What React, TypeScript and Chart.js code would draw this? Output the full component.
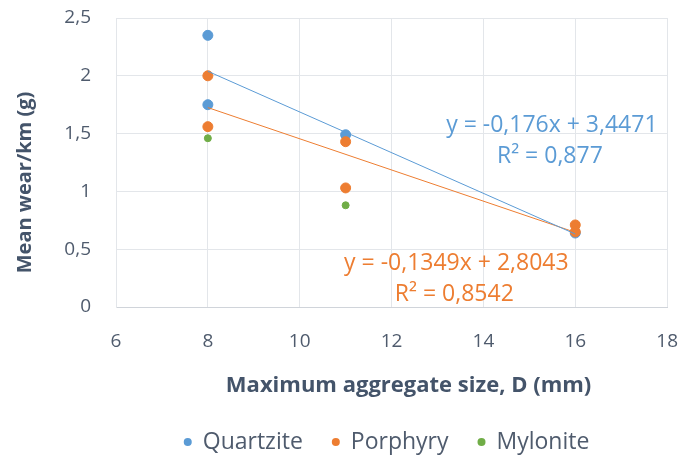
import React, { useEffect, useRef } from "react";
import { Chart, registerables } from "chart.js";

Chart.register(...registerables);

const seriesNames = ["Quartzite", "Porphyry", "Mylonite"];
const seriesColors = ["#5B9BD5", "#ED7D31", "#70AD47"];

const quartziteX = [8, 8, 11, 16];
const quartziteY = [2.35, 1.75, 1.49, 0.64];
const porphyryX = [8, 8, 11, 11, 16, 16];
const porphyryY = [2.0, 1.56, 1.43, 1.03, 0.71, 0.65];
const myloniteX = [8, 11];
const myloniteY = [1.46, 0.88];

// Linear trendlines (Quartzite, Porphyry)
const trendSlopes = [-0.176, -0.1349];
const trendIntercepts = [3.4471, 2.8043];
const trendR2 = ["0,877", "0,8542"];
const trendEqTexts = ["y = -0,176x + 3,4471", "y = -0,1349x + 2,8043"];
// label anchors in data space
const labelAnchorX = [15.49, 13.41];
const labelAnchorY = [1.57, 0.375];

const xTicks = { min: 6, max: 18, step: 2 };
const yTicks = { min: 0, max: 2.5, step: 0.5 };

const xTitle = "Maximum aggregate size, D (mm)";
const yTitle = "Mean wear/km (g)";

const FONT = "'Open Sans', 'DejaVu Sans', sans-serif";
const TICK_COLOR = "#4F5B6D";
const TITLE_COLOR = "#44546A";

function pts(xs: number[], ys: number[]) {
  return xs.map((x, i) => ({ x, y: ys[i] }));
}

function trendPoints(xs: number[], k: number) {
  const lo = Math.min(...xs);
  const hi = Math.max(...xs);
  return [
    { x: lo, y: trendSlopes[k] * lo + trendIntercepts[k] },
    { x: hi, y: trendSlopes[k] * hi + trendIntercepts[k] },
  ];
}

const textPlugin = {
  id: "textLabels",
  afterDatasetsDraw(chart: any) {
    const { ctx, scales, chartArea } = chart;
    ctx.save();
    ctx.textAlign = "center";
    ctx.textBaseline = "middle";
    ctx.font = `23px ${FONT}`;
    for (let k = 0; k < 2; k++) {
      const px = scales.x.getPixelForValue(labelAnchorX[k]);
      const py = scales.y.getPixelForValue(labelAnchorY[k]);
      ctx.fillStyle = seriesColors[k];
      ctx.fillText(trendEqTexts[k], px, py);
      ctx.fillText(`R² = ${trendR2[k]}`, px - 2, py + 31);
    }
    // axis titles
    ctx.fillStyle = TITLE_COLOR;
    ctx.font = `bold 22px ${FONT}`;
    ctx.fillText(xTitle, (chartArea.left + chartArea.right) / 2 + 17, chartArea.bottom + 79);
    ctx.save();
    ctx.font = `bold 20px ${FONT}`;
    ctx.translate(25, (chartArea.top + chartArea.bottom) / 2 + 20);
    ctx.rotate(-Math.PI / 2);
    ctx.fillText(yTitle, 0, 0);
    ctx.restore();

    // legend
    ctx.font = `23px ${FONT}`;
    ctx.textAlign = "left";
    const dotGap = 15;
    const itemGap = 33;
    const widths = seriesNames.map((n) => ctx.measureText(n).width);
    const total =
      widths.reduce((a: number, b: number) => a + b, 0) + dotGap * seriesNames.length + itemGap * (seriesNames.length - 1) + 4;
    let x = (chartArea.left + chartArea.right) / 2 - 5 - total / 2 + 4;
    const ly = chartArea.bottom + 135;
    seriesNames.forEach((n, i) => {
      ctx.fillStyle = seriesColors[i];
      ctx.beginPath();
      ctx.arc(x, ly, 4, 0, Math.PI * 2);
      ctx.fill();
      ctx.fillStyle = TICK_COLOR;
      ctx.fillText(n, x + dotGap, ly);
      x += dotGap + widths[i] + itemGap;
    });
    ctx.restore();
  },
};

export default function App() {
  const ref = useRef<HTMLCanvasElement | null>(null);

  useEffect(() => {
    if (!ref.current) return;
    const chart = new Chart(ref.current, {
      type: "scatter",
      data: {
        datasets: [
          {
            label: seriesNames[0],
            data: pts(quartziteX, quartziteY),
            backgroundColor: seriesColors[0],
            borderColor: seriesColors[0],
            pointRadius: 5,
            order: 3,
          },
          {
            label: seriesNames[1],
            data: pts(porphyryX, porphyryY),
            backgroundColor: seriesColors[1],
            borderColor: seriesColors[1],
            pointRadius: 5,
            order: 2,
          },
          {
            label: seriesNames[2],
            data: pts(myloniteX, myloniteY),
            backgroundColor: seriesColors[2],
            borderColor: seriesColors[2],
            pointRadius: 3.5,
            order: 1,
          },
          {
            type: "line",
            label: "trend0",
            data: trendPoints(quartziteX, 0),
            borderColor: seriesColors[0],
            borderWidth: 1,
            pointRadius: 0,
            fill: false,
            order: 0,
          } as any,
          {
            type: "line",
            label: "trend1",
            data: trendPoints(porphyryX, 1),
            borderColor: seriesColors[1],
            borderWidth: 1,
            pointRadius: 0,
            fill: false,
            order: 0,
          } as any,
        ],
      },
      options: {
        animation: false,
        responsive: false,
        layout: { padding: { left: 0, right: 2, top: 18, bottom: 56 } },
        plugins: {
          tooltip: { enabled: false },
          legend: { display: false },
        },
        scales: {
          x: {
            type: "linear",
            min: xTicks.min,
            max: xTicks.max,
            ticks: {
              stepSize: xTicks.step,
              color: TICK_COLOR,
              font: { family: FONT, size: 19 },
              padding: 1,
            },
            grid: { color: "#E3E6EA", drawTicks: true, tickLength: 22, tickColor: "rgba(0,0,0,0)" },
            border: { color: "#D0D4DA" },
            afterFit: (s: any) => {
              s.height = 95;
            },
          },
          y: {
            type: "linear",
            min: yTicks.min,
            max: yTicks.max,
            ticks: {
              stepSize: yTicks.step,
              color: TICK_COLOR,
              font: { family: FONT, size: 19 },
              padding: 1,
              callback: (v: any) => String(v).replace(".", ","),
            },
            grid: { color: "#E3E6EA", drawTicks: true, tickLength: 24, tickColor: "rgba(0,0,0,0)" },
            border: { color: "#E3E6EA" },
            afterFit: (s: any) => {
              s.width = 116;
            },
          },
        },
      },
      plugins: [textPlugin],
    });
    return () => chart.destroy();
  }, []);

  return (
    <div style={{ position: "absolute", left: 0, top: 0, width: 679, height: 458, background: "#fff" }}>
      <canvas ref={ref} width={679} height={458} style={{ display: "block" }} />
    </div>
  );
}
